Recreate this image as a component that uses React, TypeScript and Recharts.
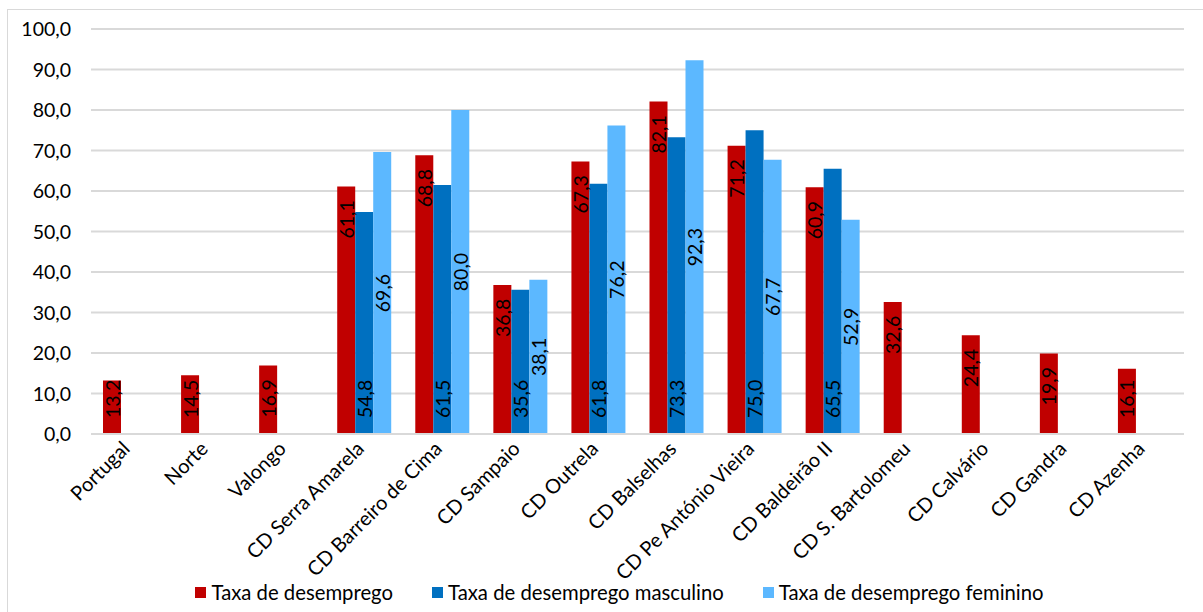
import React from 'react';
import { BarChart, Bar, XAxis, YAxis, CartesianGrid, Legend, LabelList } from 'recharts';

const categories = ['Portugal', 'Norte', 'Valongo', 'CD Serra Amarela', 'CD Barreiro de Cima', 'CD Sampaio', 'CD Outrela', 'CD Balselhas', 'CD Pe António Vieira', 'CD Baldeirão II', 'CD S. Bartolomeu', 'CD Calvário', 'CD Gandra', 'CD Azenha'];
const taxaTotal = [13.2, 14.5, 16.9, 61.1, 68.8, 36.8, 67.3, 82.1, 71.2, 60.9, 32.6, 24.4, 19.9, 16.1];
const taxaMasculino = [null, null, null, 54.8, 61.5, 35.6, 61.8, 73.3, 75.0, 65.5, null, null, null, null];
const taxaFeminino = [null, null, null, 69.6, 80.0, 38.1, 76.2, 92.3, 67.7, 52.9, null, null, null, null];
const yTicks = [0, 10, 20, 30, 40, 50, 60, 70, 80, 90, 100];

const seriesNames = ['Taxa de desemprego', 'Taxa de desemprego masculino', 'Taxa de desemprego feminino'];
const seriesColors = ['#C00000', '#0070C0', '#5CB8FF'];

const data = categories.map((c, i) => ({
  name: c,
  total: taxaTotal[i],
  masc: taxaMasculino[i],
  fem: taxaFeminino[i],
}));

const FONT = 'Lato, "Noto Sans", sans-serif';
const FS = 19.5;
const fmt = (v: number) => v.toFixed(1).replace('.', ',');

const YTick = (props: any) => {
  const { x, y, payload } = props;
  return (
    <text x={x} y={y} dy="0.36em" textAnchor="end" fontFamily={FONT} fontSize={FS} fill="#000">
      {fmt(payload.value)}
    </text>
  );
};

const XTick = (props: any) => {
  const { x, y, payload } = props;
  return (
    <g transform={`translate(${x + 1},${y + 16})`}>
      <text x={0} y={0} textAnchor="end" transform="rotate(-45)" fontFamily={FONT} fontSize={20} fill="#000">
        {payload.value}
      </text>
    </g>
  );
};

const L_LEN = 36;
const PAD = 16;

const makeLabel = (mode: 'end' | 'base' | 'center') => (props: any) => {
  const { x, y, width, height, value } = props;
  if (value === null || value === undefined) return null;
  const cx = x + width / 2;
  const top = y;
  const base = y + height;
  let ty: number;
  let anchor: 'start' | 'middle' | 'end';
  if (mode === 'end') {
    ty = Math.min(base - PAD, top + PAD + L_LEN);
    anchor = 'start';
  } else if (mode === 'base') {
    ty = base - PAD;
    anchor = 'start';
  } else {
    ty = (top + base) / 2;
    anchor = 'middle';
  }
  return (
    <text
      x={cx}
      y={ty}
      transform={`rotate(-90, ${cx}, ${ty})`}
      textAnchor={anchor}
      dominantBaseline="central"
      fontFamily={FONT}
      fontSize={FS}
      fill="#000"
    >
      {fmt(value)}
    </text>
  );
};

const LegendContent = () => (
  <div
    style={{
      display: 'flex',
      justifyContent: 'center',
      alignItems: 'center',
      height: 24,
      width: 1239,
      fontFamily: FONT,
      fontSize: 20.3,
      color: '#000',
      whiteSpace: 'nowrap',
    }}
  >
    {seriesNames.map((n, i) => (
      <div key={n} style={{ display: 'flex', alignItems: 'center', marginLeft: i === 0 ? 0 : 39 }}>
        <span style={{ display: 'inline-block', width: 11, height: 11, background: seriesColors[i], marginRight: 5 }} />
        <span>{n}</span>
      </div>
    ))}
  </div>
);

export default function App() {
  return (
    <div style={{ position: 'absolute', left: 0, top: 0, width: 1203, height: 612, overflow: 'hidden', background: '#fff' }}>
      <div
        style={{
          position: 'absolute',
          left: 7,
          top: 9,
          width: 1260,
          height: 640,
          border: '1px solid #D9D9D9',
          boxSizing: 'border-box',
        }}
      />
      <div style={{ position: 'absolute', left: 0, top: 0 }}>
        <BarChart
          width={1239}
          height={604}
          data={data}
          margin={{ top: 29, right: 55, left: 0, bottom: 0 }}
          barCategoryGap={12}
          barGap={0}
        >
          <CartesianGrid horizontal vertical={false} stroke="#D9D9D9" strokeWidth={1.8} />
          <XAxis
            dataKey="name"
            interval={0}
            tickLine={false}
            tickSize={0}
            tickMargin={0}
            axisLine={{ stroke: '#D9D9D9', strokeWidth: 1.8 }}
            height={146}
            tick={<XTick />}
          />
          <YAxis
            width={91}
            domain={[0, 100]}
            ticks={yTicks}
            interval={0}
            axisLine={false}
            tickLine={false}
            tickSize={0}
            tickMargin={20}
            tick={<YTick />}
          />
          <Legend
            verticalAlign="bottom"
            content={<LegendContent />}
            wrapperStyle={{ height: 24, width: 1239, left: 0 }}
          />
          <Bar dataKey="total" name={seriesNames[0]} fill={seriesColors[0]} isAnimationActive={false}>
            <LabelList dataKey="total" content={makeLabel('end')} />
          </Bar>
          <Bar dataKey="masc" name={seriesNames[1]} fill={seriesColors[1]} isAnimationActive={false}>
            <LabelList dataKey="masc" content={makeLabel('base')} />
          </Bar>
          <Bar dataKey="fem" name={seriesNames[2]} fill={seriesColors[2]} isAnimationActive={false}>
            <LabelList dataKey="fem" content={makeLabel('center')} />
          </Bar>
        </BarChart>
      </div>
    </div>
  );
}
